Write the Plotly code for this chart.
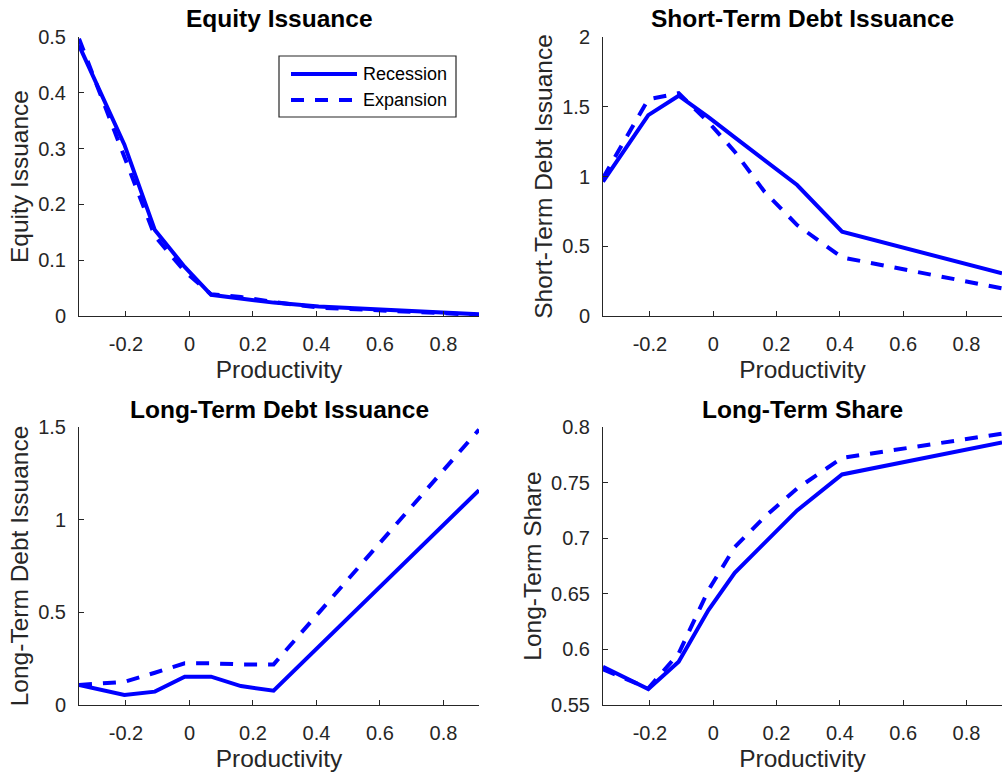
import plotly.graph_objects as go

# Productivity grid (x values shared by every panel)
productivity = [-0.348, -0.205, -0.109, -0.015, 0.068, 0.162, 0.265, 0.407, 0.912]

# Equity issuance
equity_recession = [0.485, 0.307, 0.154, 0.088, 0.038, 0.031, 0.024, 0.017, 0.003]
equity_expansion = [0.497, 0.285, 0.143, 0.080, 0.039, 0.034, 0.025, 0.015, 0.002]

# Short-term debt issuance
short_recession = [0.963, 1.440, 1.579, 1.426, 1.280, 1.116, 0.939, 0.604, 0.306]
short_expansion = [0.990, 1.553, 1.597, 1.390, 1.178, 0.891, 0.652, 0.420, 0.198]

# Long-term debt issuance
long_recession = [0.108, 0.054, 0.072, 0.153, 0.153, 0.102, 0.077, 0.316, 1.159]
long_expansion = [0.108, 0.125, 0.174, 0.225, 0.225, 0.219, 0.219, 0.498, 1.486]

# Long-term share of debt
share_recession = [0.5844, 0.5644, 0.589, 0.6354, 0.6689, 0.6958, 0.725, 0.7573, 0.786]
share_expansion = [0.582, 0.565, 0.5964, 0.6533, 0.692, 0.719, 0.7447, 0.7722, 0.794]

titles = ["Equity Issuance", "Short-Term Debt Issuance",
          "Long-Term Debt Issuance", "Long-Term Share"]
x_ticks = [-0.2, 0, 0.2, 0.4, 0.6, 0.8]
x_tick_text = ["-0.2", "0", "0.2", "0.4", "0.6", "0.8"]
y_ticks = [
    ([0, 0.1, 0.2, 0.3, 0.4, 0.5], ["0", "0.1", "0.2", "0.3", "0.4", "0.5"], [0, 0.5]),
    ([0, 0.5, 1, 1.5, 2], ["0", "0.5", "1", "1.5", "2"], [0, 2]),
    ([0, 0.5, 1, 1.5], ["0", "0.5", "1", "1.5"], [0, 1.5]),
    ([0.55, 0.6, 0.65, 0.7, 0.75, 0.8], ["0.55", "0.6", "0.65", "0.7", "0.75", "0.8"], [0.55, 0.8]),
]
series = [
    (equity_recession, equity_expansion),
    (short_recession, short_expansion),
    (long_recession, long_expansion),
    (share_recession, share_expansion),
]

W, H = 1002, 778
FONT = "Liberation Sans, Arial, Helvetica, sans-serif"
AX = "#262626"
BLUE = "#0000ff"
DASH = "13px,11px"


def px_x(p):
    return p / W


def px_y(p):
    return 1 - p / H


# Plot-area boxes in pixels: (left, right, top, bottom)
boxes = [(79, 479, 37, 316), (603, 1002, 37, 316),
         (79, 479, 427, 705), (603, 1002, 427, 705)]

fig = go.Figure()
layout = dict(
    width=W, height=H,
    margin=dict(l=0, r=0, t=0, b=0, pad=0, autoexpand=False),
    paper_bgcolor="white", plot_bgcolor="white",
    font=dict(family=FONT, color=AX),
    showlegend=False,
    annotations=[], shapes=[],
)

for i, ((rec, exp), (yt, ytt, yr), title, box) in enumerate(zip(series, y_ticks, titles, boxes)):
    n = "" if i == 0 else str(i + 1)
    xa, ya = "x" + n, "y" + n
    fig.add_trace(go.Scatter(x=productivity, y=rec, mode="lines", name="Recession",
                             line=dict(color=BLUE, width=4), xaxis=xa, yaxis=ya))
    fig.add_trace(go.Scatter(x=productivity, y=exp, mode="lines", name="Expansion",
                             line=dict(color=BLUE, width=4, dash=DASH), xaxis=xa, yaxis=ya))
    l, r, t, b = box
    common = dict(showline=True, linecolor=AX, linewidth=1, ticks="inside", ticklen=5,
                  tickcolor=AX, tickwidth=1, showgrid=False, zeroline=False, automargin=False,
                  tickfont=dict(size=20, color=AX, family=FONT))
    layout["xaxis" + n] = dict(
        domain=[px_x(l), px_x(r)], anchor=ya,
        range=[productivity[0], productivity[-1]],
        tickvals=x_ticks, ticktext=x_tick_text, ticklabelstandoff=10,
        title=dict(text="Productivity", font=dict(size=24.5, color=AX, family=FONT), standoff=6),
        **common)
    layout["yaxis" + n] = dict(
        domain=[px_y(b), px_y(t)], anchor=xa, range=yr,
        tickvals=yt, ticktext=ytt, ticklabelstandoff=8,
        title=dict(text=title, font=dict(size=24.5, color=AX, family=FONT), standoff=2),
        **common)
    layout["annotations"].append(dict(
        text="<b>%s</b>" % title, xref="paper", yref="paper",
        x=px_x((l + r) / 2), y=px_y(t - 18), xanchor="center", yanchor="middle",
        showarrow=False, font=dict(size=24.5, color="black", family=FONT)))

# Legend box in the first panel
lx0, lx1, ly0, ly1 = 279, 456, 56, 117
layout["shapes"].append(dict(type="rect", xref="paper", yref="paper",
                             x0=px_x(lx0), x1=px_x(lx1), y0=px_y(ly1), y1=px_y(ly0),
                             line=dict(color=AX, width=1.2), fillcolor="white", layer="above"))
for row_y, label, dash in [(74, "Recession", "solid"), (100, "Expansion", DASH)]:
    layout["shapes"].append(dict(type="line", xref="paper", yref="paper",
                                 x0=px_x(291), x1=px_x(357), y0=px_y(row_y), y1=px_y(row_y),
                                 line=dict(color=BLUE, width=4, dash=dash), layer="above"))
    layout["annotations"].append(dict(
        text=label, xref="paper", yref="paper", x=px_x(361), y=px_y(row_y),
        xanchor="left", yanchor="middle", showarrow=False,
        font=dict(size=18, color="black", family=FONT)))

fig.update_layout(**layout)
fig.write_html("out.html")
